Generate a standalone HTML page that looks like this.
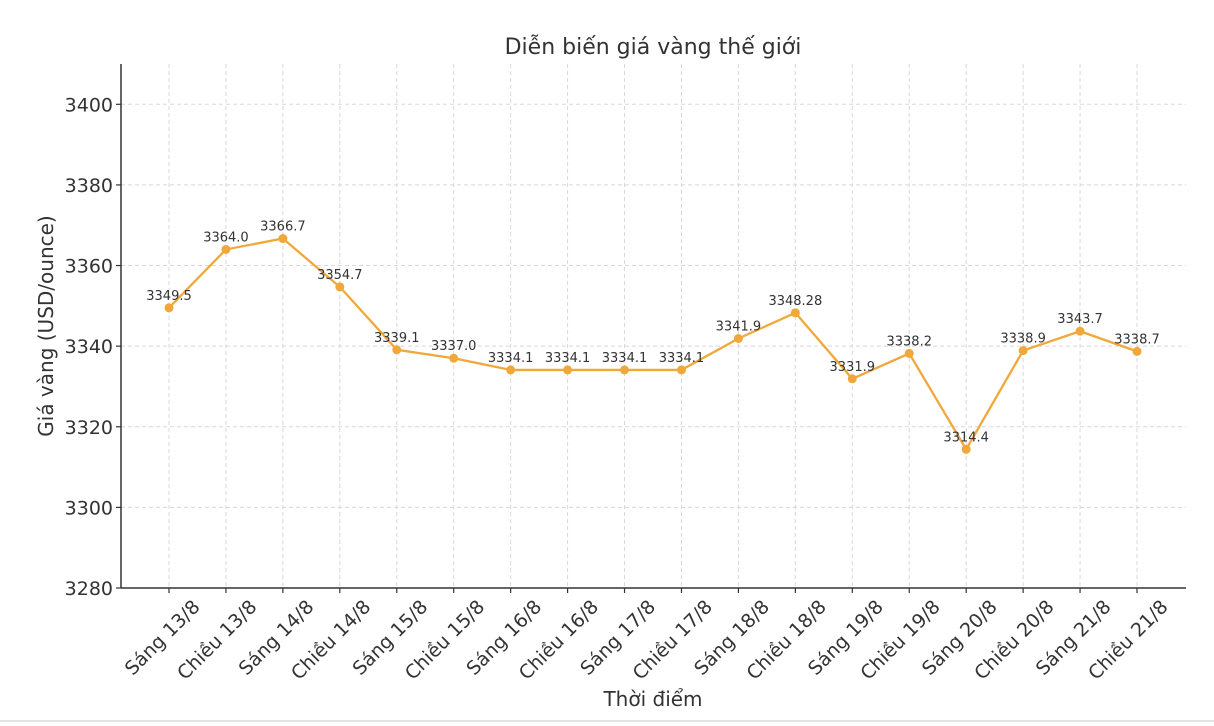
<!DOCTYPE html>
<html><head><meta charset="utf-8"><style>
body{margin:0;background:#fff;overflow:hidden;}
.card{position:absolute;left:-20px;top:-20px;width:1254px;height:742px;border:2px solid #e3e3e3;border-radius:18px;box-sizing:border-box;}
svg{position:absolute;left:0;top:0;font-family:"DejaVu Sans","Liberation Sans",sans-serif;}
</style></head><body>
<div class="card"></div>
<svg id="chart" width="1214" height="726"></svg>
<script>
const categories=["Sáng 13/8","Chiều 13/8","Sáng 14/8","Chiều 14/8","Sáng 15/8","Chiều 15/8","Sáng 16/8","Chiều 16/8","Sáng 17/8","Chiều 17/8","Sáng 18/8","Chiều 18/8","Sáng 19/8","Chiều 19/8","Sáng 20/8","Chiều 20/8","Sáng 21/8","Chiều 21/8"];
const prices=[3349.5,3364.0,3366.7,3354.7,3339.1,3337.0,3334.1,3334.1,3334.1,3334.1,3341.9,3348.28,3331.9,3338.2,3314.4,3338.9,3343.7,3338.7];
const priceLabels=["3349.5","3364.0","3366.7","3354.7","3339.1","3337.0","3334.1","3334.1","3334.1","3334.1","3341.9","3348.28","3331.9","3338.2","3314.4","3338.9","3343.7","3338.7"];
const yTicks=[3280,3300,3320,3340,3360,3380,3400];
const yMin=3280,yMax=3410;
const L=121,R=1186,T=64,B=588;
const step=(1137-169)/17;
const xs=i=>169+i*step;
const ys=v=>B-(v-yMin)/(yMax-yMin)*(B-T);
const svg=document.getElementById('chart');
const NS='http://www.w3.org/2000/svg';
function mk(tag,attrs,txt){const e=document.createElementNS(NS,tag);for(const k in attrs)e.setAttribute(k,attrs[k]);if(txt!=null)e.textContent=txt;svg.appendChild(e);return e;}
yTicks.forEach(t=>{
 const g=mk('line',{x1:L,x2:R,y1:ys(t),y2:ys(t),stroke:'#d8d8d8','stroke-dasharray':'4,3','stroke-width':1});
 
 
 const tk=mk('line',{x1:L-5,x2:L,y1:ys(t),y2:ys(t),stroke:'#333','stroke-width':1.2});
 
 
 const lb=mk('text',{x:L-8,y:ys(t)+7,'text-anchor':'end','font-size':19,fill:'#333'},t);
 
 
});
categories.forEach((c,i)=>{
 const x=xs(i);
 const g=mk('line',{x1:x,x2:x,y1:T,y2:B,stroke:'#d8d8d8','stroke-dasharray':'4,3','stroke-width':1});
 
 
 const tk=mk('line',{x1:x,x2:x,y1:B,y2:B+5,stroke:'#333','stroke-width':1.2});
 
 
 const lb=mk('text',{x:x+32,y:608,'text-anchor':'end','font-size':19,fill:'#333',transform:`rotate(-45 ${x+32} 608)`},c);
 
 
});
const ax1=mk('line',{x1:L,x2:L,y1:T,y2:B,stroke:'#333','stroke-width':1.5});


const ax2=mk('line',{x1:L,x2:R,y1:B,y2:B,stroke:'#333','stroke-width':1.5});


const pl=mk('polyline',{points:prices.map((v,i)=>xs(i)+','+ys(v)).join(' '),fill:'none',stroke:'#f0a83a','stroke-width':2.3});


prices.forEach((v,i)=>{
 const c=mk('circle',{cx:xs(i),cy:ys(v),r:4.5,fill:'#f0a83a'});
 
 
 const t=mk('text',{x:xs(i),y:ys(v)-8,'text-anchor':'middle','font-size':13,fill:'#333'},priceLabels[i]);
 
 
});
const ti=mk('text',{x:653,y:54,'text-anchor':'middle','font-size':22,fill:'#333'},'Diễn biến giá vàng thế giới');


const xt=mk('text',{x:653,y:706,'text-anchor':'middle','font-size':20,fill:'#333'},'Thời điểm');


const yt=mk('text',{x:53,y:326,'text-anchor':'middle','font-size':20,fill:'#333',transform:'rotate(-90 53 326)'},'Giá vàng (USD/ounce)');


</script>
</body></html>
